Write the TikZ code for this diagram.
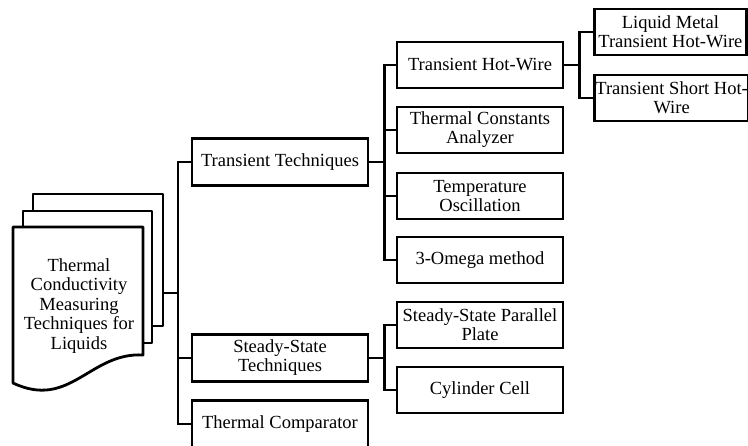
\documentclass[tikz,border=0pt]{standalone}
\usepackage{fontspec}
\setmainfont{Liberation Serif}
\tikzstyle{box}=[draw, line width=2.8pt, fill=white, align=center, inner sep=1pt, font=\fontsize{18.5}{19}\selectfont]
\tikzstyle{wide}=[box, minimum width=176pt, minimum height=47pt]
\tikzstyle{mid}=[box, minimum width=166pt, minimum height=46pt]
\tikzstyle{far}=[box, minimum width=152pt, minimum height=46pt, anchor=west]
\tikzstyle{link}=[line width=2.8pt, line cap=rect]
\tikzstyle{page}=[draw, line width=2.8pt, fill=white, line join=round]

\begin{document}
\begin{tikzpicture}[x=1pt, y=-1pt]
				\useasboundingbox (0,0) rectangle (748,446);
				\clip (0,0) rectangle (748,446);
				% stacked document
				\draw[page] (33,194) rectangle (163,326);
				\draw[page] (23,211) rectangle (152,343);
				\draw[page] (13,227) -- (143,227) -- (143,355) .. controls (90,352) and (70,410) .. (13,383) -- cycle;
				\node[font=\fontsize{18.5}{19.5}\selectfont, align=center] (root) at (79,306) {Thermal\\Conductivity\\Measuring\\Techniques for\\Liquids};
				\coordinate (rootout) at (163,293);
				\coordinate (trunk) at (178,293);
				% first level
				\node[wide] (tt) at (280,162) {Transient Techniques};
				\node[wide] (ss) at (280,358) {Steady-State\\Techniques};
				\node[wide] (tc) at (280,424) {Thermal Comparator};
				% second level
				\node[mid] (hw) at (480,65) {Transient Hot-Wire};
				\node[mid] (ca) at (480,130) {Thermal Constants\\Analyzer};
				\node[mid] (os) at (480,196) {Temperature\\Oscillation};
				\node[mid] (om) at (480,260) {3-Omega method};
				\node[mid] (pp) at (480,325) {Steady-State Parallel\\Plate};
				\node[mid] (cc) at (480,390) {Cylinder Cell};
				% third level
				\node[far] (lm) at (593,32) {Liquid Metal\\Transient Hot-Wire};
				\node[far] (sh) at (593,98) {Transient Short Hot-\\Wire};
				% connectors
				\draw[link] (rootout) -- (trunk);
				\draw[link] (tt.west) -| (trunk) |- (tc.west);
				\draw[link] (ss.west) -- (ss.west -| trunk);
				\draw[link] (tt.east) -- ++(15,0) coordinate (tj);
				\draw[link] (hw.west) -| (tj) |- (om.west);
				\draw[link] (ca.west) -- (ca.west -| tj);
				\draw[link] (os.west) -- (os.west -| tj);
				\draw[link] (ss.east) -- ++(15,0) coordinate (sj);
				\draw[link] (pp.west) -| (sj) |- (cc.west);
				\draw[link] (hw.east) -- ++(15,0) coordinate (hj);
				\draw[link] (lm.west) -| (hj) |- (sh.west);
			\end{tikzpicture}
\end{document}
